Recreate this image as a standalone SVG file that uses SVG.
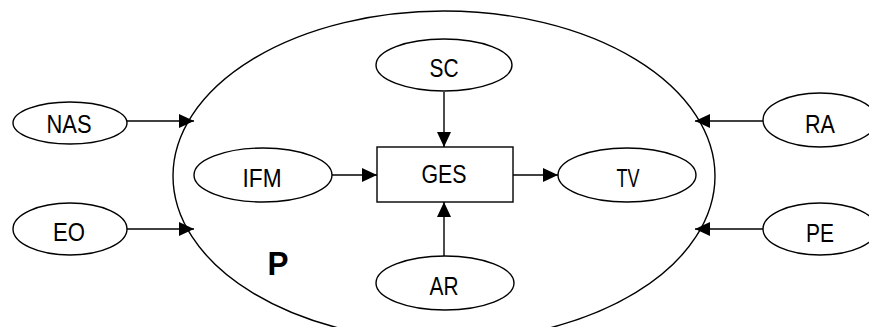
<svg xmlns="http://www.w3.org/2000/svg" width="869" height="327" viewBox="0 0 869 327">
  <style>
    .shape { fill: #ffffff; stroke: #000000; stroke-width: 1.4; }
    .outer { fill: none; stroke: #000000; stroke-width: 1.4; }
    .lbl { font-family: "Liberation Sans", Arial, sans-serif; font-size: 25px; fill: #000000; text-anchor: middle; }
    .big { font-family: "Liberation Sans", Arial, sans-serif; font-size: 33px; font-weight: bold; fill: #000000; text-anchor: middle; }
    .edge { fill: none; stroke: #000000; stroke-width: 1.4; marker-end: url(#head); }
  </style>
  <defs>
    <marker id="head" markerUnits="userSpaceOnUse" markerWidth="15" markerHeight="14" refX="15" refY="7" orient="auto">
      <path d="M0,0 L15,7 L0,14 Z" fill="#000000"/>
    </marker>
  </defs>
  <rect width="869" height="327" fill="#ffffff"/>

  <!-- enclosing process P -->
  <g id="P">
    <ellipse class="outer" cx="444" cy="176" rx="271" ry="165"/>
    <text class="big" x="278" y="275" textLength="21" lengthAdjust="spacingAndGlyphs">P</text>
  </g>

  <!-- connectors -->
  <g id="connectors">
    <line class="edge" x1="127" y1="121" x2="194" y2="121"/>
    <line class="edge" x1="127" y1="229" x2="194" y2="229"/>
    <line class="edge" x1="763" y1="121" x2="695" y2="121"/>
    <line class="edge" x1="763" y1="229" x2="695" y2="229"/>
    <line class="edge" x1="444" y1="92" x2="444" y2="147"/>
    <line class="edge" x1="444" y1="256" x2="444" y2="202"/>
    <line class="edge" x1="332" y1="175" x2="377" y2="175"/>
    <line class="edge" x1="513" y1="175" x2="558" y2="175"/>
  </g>

  <g id="NAS">
    <ellipse class="shape" cx="70" cy="123" rx="57" ry="21"/>
    <text class="lbl" x="69" y="133" textLength="45" lengthAdjust="spacingAndGlyphs">NAS</text>
  </g>
  <g id="EO">
    <ellipse class="shape" cx="70" cy="229" rx="57" ry="26"/>
    <text class="lbl" x="69" y="241" textLength="32" lengthAdjust="spacingAndGlyphs">EO</text>
  </g>
  <g id="RA">
    <ellipse class="shape" cx="820" cy="120" rx="57" ry="27"/>
    <text class="lbl" x="820" y="133" textLength="30" lengthAdjust="spacingAndGlyphs">RA</text>
  </g>
  <g id="PE">
    <ellipse class="shape" cx="820" cy="229" rx="57" ry="26"/>
    <text class="lbl" x="820" y="242" textLength="28" lengthAdjust="spacingAndGlyphs">PE</text>
  </g>
  <g id="SC">
    <ellipse class="shape" cx="444" cy="65" rx="68" ry="26"/>
    <text class="lbl" x="444" y="77" textLength="29" lengthAdjust="spacingAndGlyphs">SC</text>
  </g>
  <g id="GES">
    <rect class="shape" x="377" y="147" width="136" height="55"/>
    <text class="lbl" x="444" y="183" textLength="45" lengthAdjust="spacingAndGlyphs">GES</text>
  </g>
  <g id="IFM">
    <ellipse class="shape" cx="263" cy="175" rx="69" ry="27"/>
    <text class="lbl" x="262" y="187" textLength="39" lengthAdjust="spacingAndGlyphs">IFM</text>
  </g>
  <g id="TV">
    <ellipse class="shape" cx="627" cy="175" rx="69" ry="27"/>
    <text class="lbl" x="628" y="187" textLength="23" lengthAdjust="spacingAndGlyphs">TV</text>
  </g>
  <g id="AR">
    <ellipse class="shape" cx="445" cy="283" rx="69" ry="27"/>
    <text class="lbl" x="444" y="295" textLength="29" lengthAdjust="spacingAndGlyphs">AR</text>
  </g>
</svg>
